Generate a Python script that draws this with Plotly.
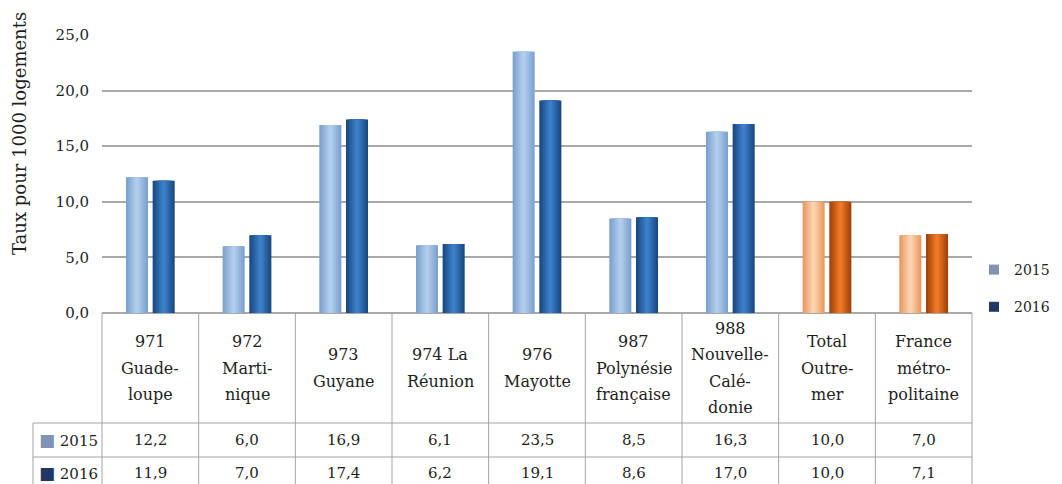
import plotly.graph_objects as go

# ---------------- data ----------------
categories = [
    ["971", "Guade-", "loupe"],
    ["972", "Marti-", "nique"],
    ["973", "Guyane"],
    ["974 La", "Réunion"],
    ["976", "Mayotte"],
    ["987", "Polynésie", "française"],
    ["988", "Nouvelle-", "Calé-", "donie"],
    ["Total", "Outre-", "mer"],
    ["France", "métro-", "politaine"],
]
years = ["2015", "2016"]
v2015 = [12.2, 6.0, 16.9, 6.1, 23.5, 8.5, 16.3, 10.0, 7.0]
v2016 = [11.9, 7.0, 17.4, 6.2, 19.1, 8.6, 17.0, 10.0, 7.1]
is_total = [False, False, False, False, False, False, False, True, True]
y_ticks = [0, 5, 10, 15, 20, 25]

# ---------------- style ----------------
FONT = "DejaVu Serif"
OFF = 8                      # page body margin
W, H = 1062 - OFF, 484 - OFF
ML, MR, MT, MB = 102 - OFF, 90, 35 - OFF, 171
PLOT_H = 313 - 35
PLOT_W = 972 - 102
GRID = "#a9a9a9"
TABLE = "#a3a3a3"
TXT = "#1e1e1e"

def py(px):  # page pixel y -> paper y
    return (313 - px) / PLOT_H

def px_x(px):  # page pixel x -> paper x
    return (px - 102) / PLOT_W

def hex2rgb(h):
    h = h.lstrip("#")
    return tuple(int(h[i:i + 2], 16) for i in (0, 2, 4))

def mix(a, b, t):
    a, b = hex2rgb(a), hex2rgb(b)
    return "rgb(%d,%d,%d)" % tuple(round(a[i] + (b[i] - a[i]) * t) for i in range(3))

# (edge colour, centre colour) for normal / total categories
pal = {
    "2015": {False: ("#7da2cf", "#b0cdec"), True: ("#e99a62", "#fcd3b0")},
    "2016": {False: ("#1b4a83", "#3a7fc8"), True: ("#a3440c", "#ee7826")},
}
legend_col = {"2015": "#7f93b5", "2016": "#1f3864"}

idx = list(range(len(categories)))
bar_w = 0.228
centres = {"2015": -0.138, "2016": 0.138}
M = 6

fig = go.Figure()
for yr, vals in zip(years, [v2015, v2016]):
    for k in range(M):
        w = bar_w * (1 - k / M)
        t = k / (M - 1)
        cols = [mix(pal[yr][f][0], pal[yr][f][1], t) for f in is_total]
        fig.add_trace(go.Bar(
            x=idx, y=vals,
            offset=centres[yr] - w / 2,
            width=w,
            marker=dict(color=cols, line=dict(width=0)),
            showlegend=False, hoverinfo="skip",
        ))

# legend entries
for yr in years:
    fig.add_trace(go.Scatter(
        x=[None], y=[None], mode="markers", name=yr,
        legendgroup=yr,
        marker=dict(symbol="square", size=10, color=legend_col[yr]),
    ))

shapes = []
line = dict(color=TABLE, width=1)
bottom = py(500)
for k in range(len(categories) + 1):
    xp = k / len(categories)
    shapes.append(dict(type="line", xref="paper", yref="paper",
                       x0=xp, x1=xp, y0=0, y1=bottom, line=line))
left = px_x(33)
for ypx in (423, 457):
    shapes.append(dict(type="line", xref="paper", yref="paper",
                       x0=left, x1=1, y0=py(ypx), y1=py(ypx), line=line))
shapes.append(dict(type="line", xref="paper", yref="paper",
                   x0=left, x1=left, y0=py(423), y1=bottom, line=line))

annotations = []
for i, lines in enumerate(categories):
    n = len(lines)
    for j, txt in enumerate(lines):
        ypos = 368 + (j - (n - 1) / 2) * 26.5
        annotations.append(dict(x=i, y=py(ypos), xref="x", yref="paper",
                                xanchor="center", yanchor="middle",
                                text=txt, showarrow=False,
                                font=dict(family=FONT, size=16, color=TXT)))
for vals, ypx in ((v2015, 440), (v2016, 473)):
    for i, v in enumerate(vals):
        annotations.append(dict(x=i, y=py(ypx), xref="x", yref="paper",
                                xanchor="center", yanchor="middle",
                                text=f"{v:.1f}".replace(".", ","), showarrow=False,
                                font=dict(family=FONT, size=15, color=TXT)))
for yr, ypx in zip(years, (440, 473)):
    annotations.append(dict(x=px_x(37), y=py(ypx), xref="paper", yref="paper",
                            xanchor="left", yanchor="middle",
                            text=f'<span style="color:{legend_col[yr]};font-family:DejaVu Sans;font-size:17px">■</span> {yr}',
                            showarrow=False,
                            font=dict(family=FONT, size=15, color=TXT)))
annotations.append(dict(x=px_x(19), y=py(134), xref="paper", yref="paper",
                        xanchor="center", yanchor="middle",
                        text="Taux pour 1000 logements", textangle=-90,
                        showarrow=False,
                        font=dict(family=FONT, size=18, color=TXT)))

fig.update_layout(
    width=W, height=H,
    margin=dict(l=ML, r=MR, t=MT, b=MB, autoexpand=False),
    paper_bgcolor="white", plot_bgcolor="white",
    barmode="overlay",
    separators=", ",
    font=dict(family=FONT, color=TXT),
    xaxis=dict(range=[-0.5, len(categories) - 0.5], showticklabels=False,
               showgrid=False, zeroline=False, showline=False, ticks=""),
    yaxis=dict(range=[0, 25], tickvals=y_ticks, tickformat=".1f",
               showgrid=True, gridcolor=GRID, gridwidth=1.5,
               zeroline=True, zerolinecolor=GRID, zerolinewidth=1.5,
               showline=False, ticks="", ticklabelstandoff=12,
               tickfont=dict(family=FONT, size=15, color=TXT)),
    legend=dict(x=px_x(974), y=py(254), xanchor="left", yanchor="top",
                traceorder="grouped", tracegroupgap=16,
                font=dict(family=FONT, size=14, color=TXT),
                bgcolor="rgba(0,0,0,0)", itemwidth=30),
    shapes=shapes,
    annotations=annotations,
)

fig.write_html("out.html")
